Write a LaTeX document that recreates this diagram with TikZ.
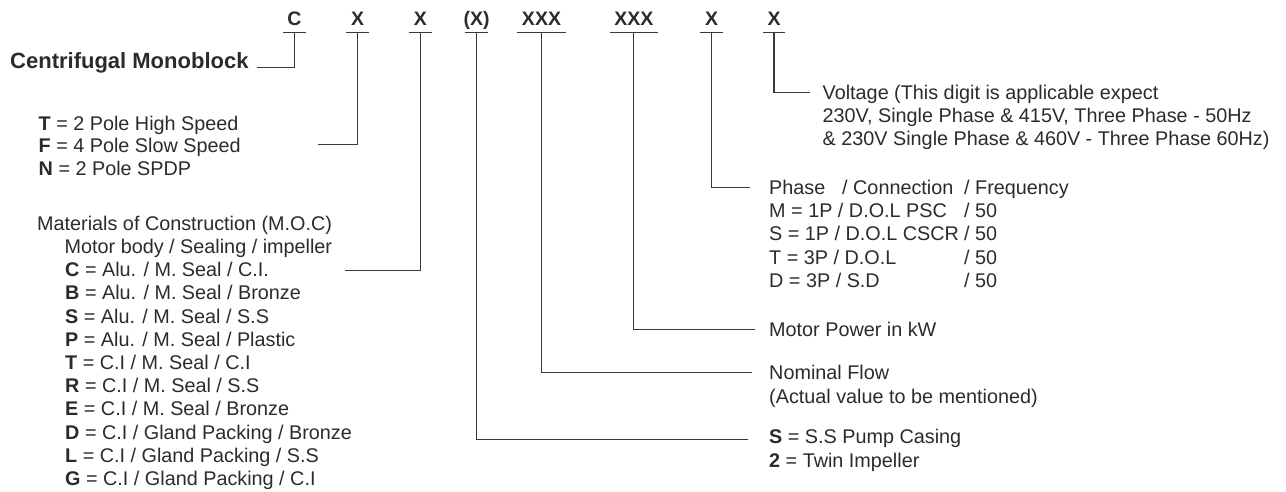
\documentclass[tikz,border=0pt]{standalone}
\usepackage{fontspec}
\setmainfont{Liberation Sans}
\definecolor{ink}{HTML}{2B2B2B}
\definecolor{wire}{HTML}{3A3A3A}
\begin{document}
\begin{tikzpicture}[x=1pt,y=-1pt,
  code/.style={font=\bfseries\fontsize{19.5}{23}\selectfont, text=ink, anchor=base,
    inner xsep=4.5pt, inner ysep=0pt, text depth=7pt},
  head/.style={font=\bfseries\fontsize{22}{26}\selectfont, text=ink, anchor=base west, inner sep=0pt},
  txt/.style={font=\fontsize{19.8}{23}\selectfont, text=ink, anchor=base west, inner sep=0pt},
  ln/.style={draw=wire, line width=1.2pt}]
\useasboundingbox (0,0) rectangle (1286,491);

% code letters
\node[code] (c1) at (294.5,25.3) {C};
\node[code] (c2) at (357.5,25.3) {X};
\node[code] (c3) at (420.3,25.3) {X};
\node[code, inner xsep=-1.5pt] (c4) at (476.7,25.3) {(X)};
\node[code] (c5) at (541.5,25.3) {XXX};
\node[code] (c6) at (633.8,25.3) {XXX};
\node[code] (c7) at (711.5,25.3) {X};
\node[code] (c8) at (774,25.3) {X};
\foreach \n in {c1,c2,c3,c4,c5,c6,c7,c8}
  \draw[ln] (\n.south west) -- (\n.south east);

% left texts
\node[head] (hd) at (10,68) {Centrifugal Monoblock};
\node[txt] (t1) at (38.5,130.7) {\textbf{T} = 2 Pole High Speed};
\node[txt] (t2) at (38.5,152.9) {\textbf{F} = 4 Pole Slow Speed};
\node[txt] (t3) at (38.5,175.1) {\textbf{N} = 2 Pole SPDP};

\node[txt] (m0) at (37,230.3) {Materials of Construction (M.O.C)};
\node[txt] (m1) at (64.5,253.5) {Motor body / Sealing / impeller};
\node[txt] (m2) at (65,276.7) {\textbf{C} = Alu. / M. Seal / C.I.};
\node[txt] (m3) at (65,299.9) {\textbf{B} = Alu. / M. Seal / Bronze};
\node[txt] (m4) at (65,323.1) {\textbf{S} = Alu. / M. Seal / S.S};
\node[txt] (m5) at (65,346.3) {\textbf{P} = Alu. / M. Seal / Plastic};
\node[txt] (m6) at (65,369.5) {\textbf{T} = C.I / M. Seal / C.I};
\node[txt] (m7) at (65,392.7) {\textbf{R} = C.I / M. Seal / S.S};
\node[txt] (m8) at (65,415.9) {\textbf{E} = C.I / M. Seal / Bronze};
\node[txt] (m9) at (65,439.1) {\textbf{D} = C.I / Gland Packing / Bronze};
\node[txt] (m10) at (65,462.3) {\textbf{L} = C.I / Gland Packing / S.S};
\node[txt] (m11) at (65,485.5) {\textbf{G} = C.I / Gland Packing / C.I};

% right texts
\node[txt] (v1) at (822.5,99.2) {Voltage (This digit is applicable expect};
\node[txt] (v2) at (822.5,122.5) {230V, Single Phase \& 415V, Three Phase - 50Hz};
\node[txt] (v3) at (822.5,145.8) {\& 230V Single Phase \& 460V - Three Phase 60Hz)};

\node[txt] (p0) at (769,194.3) {\makebox[73pt][l]{Phase}\makebox[122pt][l]{/ Connection}/ Frequency};
\node[txt] (p1) at (769,217.6) {\makebox[195pt][l]{M = 1P / D.O.L PSC}/ 50};
\node[txt] (p2) at (769,240.9) {\makebox[195pt][l]{S = 1P / D.O.L CSCR}/ 50};
\node[txt] (p3) at (769,264.2) {\makebox[195pt][l]{T = 3P / D.O.L}/ 50};
\node[txt] (p4) at (769,287.5) {\makebox[195pt][l]{D = 3P / S.D}/ 50};

\node[txt] (mp) at (769,336.3) {Motor Power in kW};
\node[txt] (nf1) at (769,379.7) {Nominal Flow};
\node[txt] (nf2) at (769,403) {(Actual value to be mentioned)};
\node[txt] (s1) at (769,443.7) {\textbf{S} = S.S Pump Casing};
\node[txt] (s2) at (769,467) {\textbf{2} = Twin Impeller};

% connector ends
\coordinate (e1) at (256.7,67.7);
\coordinate (e2) at (318,144.3);
\coordinate (e3) at (344.5,270.7);
\coordinate (e4) at (748,439.3);
\coordinate (e5) at (751.5,372.7);
\coordinate (e6) at (755,329.3);
\coordinate (e7) at (750,187.3);
\coordinate (e8) at (810,92.7);

\draw[ln] (c1.south) |- (e1);
\draw[ln] (c2.south) |- (e2);
\draw[ln] (c3.south) |- (e3);
\draw[ln] (c4.south) |- (e4);
\draw[ln] (c5.south) |- (e5);
\draw[ln] (c6.south) |- (e6);
\draw[ln] (c7.south) |- (e7);
\draw[ln] (c8.south) |- (e8);
\end{tikzpicture}
\end{document}
